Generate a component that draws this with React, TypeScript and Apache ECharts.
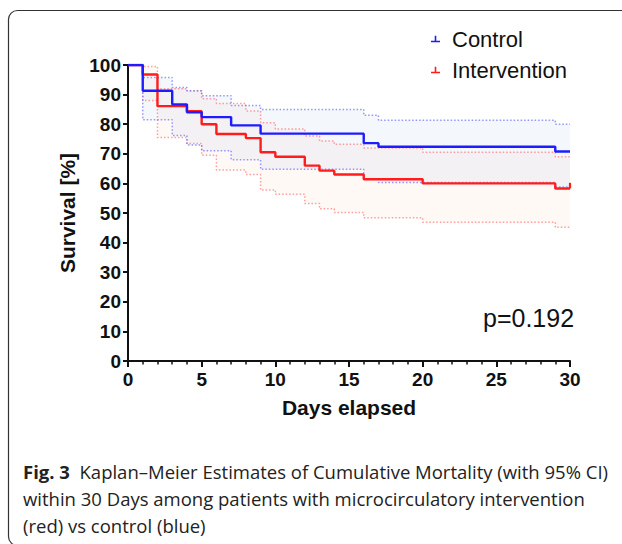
import React, { useEffect, useRef } from 'react';
import * as echarts from 'echarts';

// Control (blue)
const ctrlDays = [0, 1, 3, 4, 5, 7, 9, 16, 17, 29, 30];
const ctrlSurv = [100, 91.3, 86.7, 84, 82.4, 79.6, 76.8, 73.6, 72.4, 70.8, 70.8];
const ctrlLower = [100, 81.5, 76.2, 73, 71, 68, 64.8, 61.4, 60.3, 58.8, 58.8];
const ctrlUpper = [100, 95.8, 92.4, 91.3, 89.6, 86.3, 85, 83, 81.3, 80, 80];

// Intervention (red)
const intDays = [0, 1, 2, 4, 5, 6, 8, 9, 10, 12, 13, 14, 16, 20, 29, 30];
const intSurv = [100, 96.8, 86.1, 84.4, 80, 76.7, 75.3, 70.5, 69, 66, 64.3, 63, 61.4, 60, 58.3, 58.3];
const intLower = [100, 88, 75.5, 73.5, 69.5, 64.5, 63, 57.8, 56.3, 53.2, 51.4, 50.2, 48.4, 46.9, 45.2, 45.2];
const intUpper = [100, 99.5, 92, 91.3, 88.6, 87, 84.5, 80.5, 78.4, 76, 74.3, 73.2, 72, 70.5, 69, 69];

// censor mark at end of intervention curve
const intCensorDays = [30, 30];
const intCensorVals = [58.3, 60.2];

const legendNames = ['Control', 'Intervention'];
const pValueText = 'p=0.192';
const captionLines = [
  '{b|Fig. 3}  Kaplan\u2013Meier Estimates of Cumulative Mortality (with 95% CI)',
  'within 30 Days among patients with microcirculatory intervention',
  '(red) vs control (blue)',
];

const BLUE = '#1c1cff';
const RED = '#ff1c1c';
const AXIS_FONT = 'Liberation Sans, Arial, Helvetica, sans-serif';
const CAP_FONT = 'Open Sans, Noto Sans, sans-serif';

const zip = (a: number[], b: number[]) => a.map((x, i) => [x, b[i]]);
// step intervals [tStart, tEnd, lo, hi] for the confidence band
const bandSegments = (days: number[], lo: number[], hi: number[]) =>
  days.slice(0, -1).map((t, i) => [t, days[i + 1], lo[i], hi[i]]);

const iconPath = 'path://M0,5 L9,5 L9,6.6 L0,6.6 Z M3.7,0 L5.3,0 L5.3,5 L3.7,5 Z';

const bandRender = (fill: string) => (params: any, api: any) => {
  const p0 = api.coord([api.value(0), api.value(3)]);
  const p1 = api.coord([api.value(1), api.value(2)]);
  return {
    type: 'rect',
    shape: { x: p0[0], y: p0[1], width: p1[0] - p0[0], height: p1[1] - p0[1] },
    style: { fill },
    silent: true,
  };
};

export default function App() {
  const ref = useRef<HTMLDivElement>(null);
  useEffect(() => {
    if (!ref.current) return;
    const chart = echarts.init(ref.current, undefined, { renderer: 'svg' });

    const dotted = (color: string) => ({ color, width: 1.5, type: [1.5, 2] as any });
    const ciLine = (name: string, data: number[][], color: string, z: number) => ({
      name, type: 'line', step: 'end', symbol: 'none', silent: true, z, data, lineStyle: dotted(color),
    });

    const option: any = {
      animation: false,
      backgroundColor: '#ffffff',
      grid: { left: 128, right: 52, top: 65, bottom: 183, outerBoundsMode: 'none', containLabel: false },
      legend: {
        orient: 'vertical',
        left: 426,
        top: 23,
        itemWidth: 9,
        itemHeight: 7,
        itemGap: 9,
        data: [
          { name: legendNames[0], icon: iconPath },
          { name: legendNames[1], icon: iconPath },
        ],
        textStyle: { fontSize: 22, fontFamily: AXIS_FONT, color: '#111', padding: [0, 0, 0, 7] },
        selectedMode: false,
      },
      xAxis: {
        type: 'value',
        min: 0,
        max: 30,
        interval: 5,
        name: 'Days elapsed',
        nameLocation: 'middle',
        nameGap: 36,
        nameTextStyle: { fontSize: 21, fontWeight: 'bold', fontFamily: AXIS_FONT, color: '#111' },
        axisLine: { show: true, onZero: false, lineStyle: { color: '#111', width: 2 } },
        axisTick: { show: true, length: 6, lineStyle: { color: '#111', width: 2 } },
        minorTick: { show: true, splitNumber: 5, length: 3.5, lineStyle: { color: '#111', width: 1.5 } },
        axisLabel: { fontSize: 19, fontWeight: 'bold', fontFamily: AXIS_FONT, color: '#111', margin: 9 },
        splitLine: { show: false },
      },
      yAxis: {
        type: 'value',
        min: 0,
        max: 100,
        interval: 10,
        name: 'Survival [%]',
        nameLocation: 'middle',
        nameGap: 47,
        nameTextStyle: { fontSize: 21, fontWeight: 'bold', fontFamily: AXIS_FONT, color: '#111' },
        axisLine: { show: true, onZero: false, lineStyle: { color: '#111', width: 2 } },
        axisTick: { show: true, length: 5, lineStyle: { color: '#111', width: 2 } },
        axisLabel: { fontSize: 19, fontWeight: 'bold', fontFamily: AXIS_FONT, color: '#111', margin: 7 },
        splitLine: { show: false },
      },
      series: [
        {
          name: 'intBand', type: 'custom', silent: true, z: 1,
          renderItem: bandRender('rgba(255,175,145,0.08)'),
          data: bandSegments(intDays, intLower, intUpper),
          encode: { x: [0, 1], y: [2, 3] },
        },
        {
          name: 'ctrlBand', type: 'custom', silent: true, z: 1,
          renderItem: bandRender('rgba(170,195,235,0.13)'),
          data: bandSegments(ctrlDays, ctrlLower, ctrlUpper),
          encode: { x: [0, 1], y: [2, 3] },
        },
        ciLine('intLower', zip(intDays, intLower), 'rgba(255,95,95,0.6)', 2),
        ciLine('intUpper', zip(intDays, intUpper), 'rgba(255,95,95,0.6)', 2),
        ciLine('ctrlLower', zip(ctrlDays, ctrlLower), 'rgba(95,95,255,0.65)', 3),
        ciLine('ctrlUpper', zip(ctrlDays, ctrlUpper), 'rgba(95,95,255,0.65)', 3),
        {
          name: legendNames[1], type: 'line', step: 'end', symbol: 'none', z: 5, color: RED,
          data: zip(intDays, intSurv),
          lineStyle: { color: RED, width: 2.4 },
        },
        {
          name: 'intCensor', type: 'line', symbol: 'none', z: 5, silent: true,
          data: zip(intCensorDays, intCensorVals),
          lineStyle: { color: RED, width: 2.2 },
        },
        {
          name: legendNames[0], type: 'line', step: 'end', symbol: 'none', z: 6, color: BLUE,
          data: zip(ctrlDays, ctrlSurv),
          lineStyle: { color: BLUE, width: 2.4 },
        },
      ],
      graphic: [
        {
          type: 'rect', silent: true, z: 0,
          shape: { x: 8.5, y: 10.5, width: 700, height: 535, r: 9 },
          style: { fill: 'none', stroke: '#333', lineWidth: 1.2 },
        },
        {
          type: 'text', x: 483, y: 318,
          style: { text: pValueText, fontSize: 25, fontFamily: AXIS_FONT, fill: '#111', verticalAlign: 'middle', align: 'left' },
        },
        {
          type: 'text', x: 23, y: 471,
          style: {
            text: captionLines[0], fontSize: 18.5, fontFamily: CAP_FONT, fill: '#222',
            verticalAlign: 'middle', align: 'left',
            rich: { b: { fontWeight: 'bold', fontSize: 18.5, fontFamily: CAP_FONT, fill: '#222' } },
          },
        },
        {
          type: 'text', x: 23, y: 498,
          style: { text: captionLines[1], fontSize: 18.5, fontFamily: CAP_FONT, fill: '#222', verticalAlign: 'middle', align: 'left' },
        },
        {
          type: 'text', x: 23, y: 525,
          style: { text: captionLines[2], fontSize: 18.5, fontFamily: CAP_FONT, fill: '#222', verticalAlign: 'middle', align: 'left' },
        },
      ],
    };

    chart.setOption(option);
    return () => chart.dispose();
  }, []);

  return (
    <div
      ref={ref}
      style={{ position: 'absolute', left: 0, top: 0, width: 622, height: 544, background: '#fff' }}
    />
  );
}
